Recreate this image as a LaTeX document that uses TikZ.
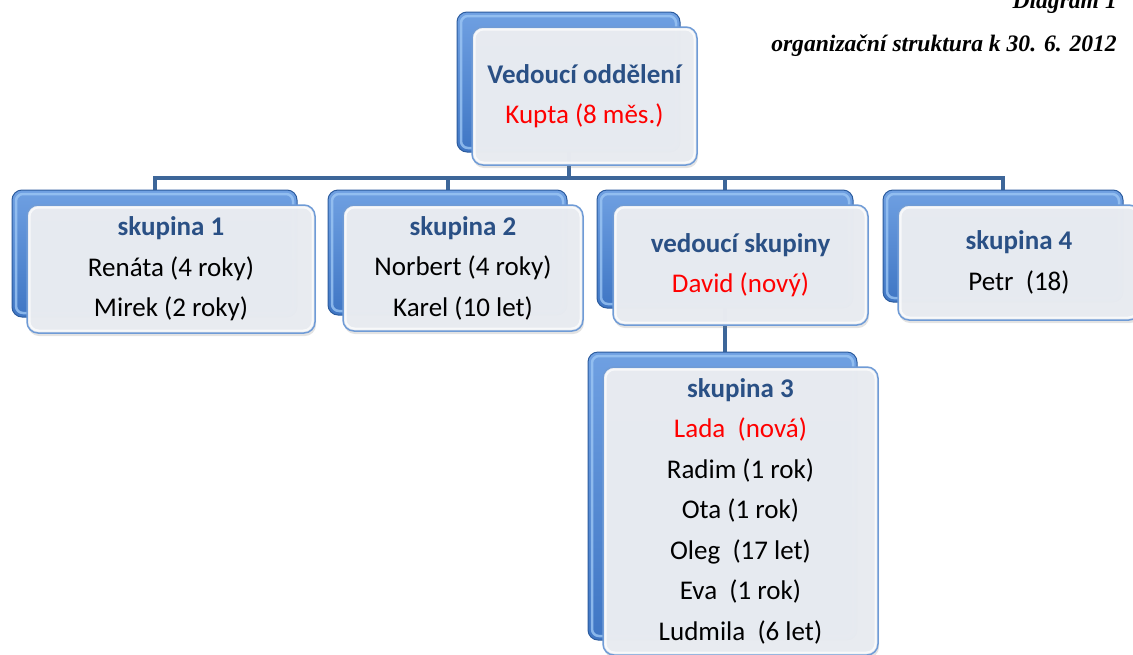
\documentclass[tikz,border=0pt]{standalone}
\usepackage{fontspec}
\setmainfont{Carlito}
\newfontfamily\tnrfont{Liberation Serif}
\usetikzlibrary{shadows}
\definecolor{ttl}{HTML}{2A5085}
\definecolor{connc}{HTML}{3D6699}
\definecolor{bkA}{HTML}{6FA0E2}
\definecolor{bkC}{HTML}{3F76C4}
\definecolor{bkD}{HTML}{2C5C9E}
\definecolor{bkL}{HTML}{9CC6F4}
\definecolor{frF}{HTML}{E9ECF1}
\definecolor{frD}{HTML}{6F9BD6}
\pgfdeclarelayer{bg}\pgfsetlayers{bg,main}
\newcommand\ttlt[1]{{\bfseries\color{ttl}#1}}
\newcommand\rdt[1]{{\color{red}#1}}
\tikzset{
 backbox/.style={rounded corners=10pt, top color=bkA, bottom color=bkC, draw=bkD, line width=1pt, inner sep=0pt,
   path picture={\draw[bkL, line width=2.5pt, rounded corners=7pt, opacity=0.8] ([shift={(4pt,-4pt)}]path picture bounding box.north west) rectangle ([shift={(-4pt,4pt)}]path picture bounding box.south east);}},
 frontbox/.style={rounded corners=11pt, fill=frF, fill opacity=0.985, text opacity=1, draw=frD, draw opacity=1, line width=1.5pt, align=center, font=\fontsize{27}{40.5}\selectfont, inner sep=0pt, drop shadow={opacity=0.22, shadow xshift=1pt, shadow yshift=-3pt},
   path picture={\draw[white, line width=2pt, rounded corners=9pt, opacity=0.7] ([shift={(2.5pt,-2.5pt)}]path picture bounding box.north west) rectangle ([shift={(-2.5pt,2.5pt)}]path picture bounding box.south east);}},
 link/.style={draw=connc, line width=4pt},
 head/.style={font=\tnrfont\bfseries\itshape\fontsize{23.6}{27}\selectfont, anchor=base east, inner sep=0pt}
}
\begin{document}
\begin{tikzpicture}[x=1pt,y=-1pt]
\useasboundingbox (0,0) rectangle (1133,654);
\clip (0,0) rectangle (1133,654);
\coordinate (bus) at (0,178);
% top
\node[backbox, minimum width=223pt, minimum height=140pt] (b0) at (568.5,82) {};
\node[frontbox, minimum width=225pt, minimum height=138pt] (f0) at (584.5,96) {\ttlt{Vedoucí oddělení}\\\rdt{Kupta (8 měs.)}};
% skupina 1
\node[backbox, minimum width=285pt, minimum height=127pt] (b1) at (154.5,253.5) {};
\node[frontbox, minimum width=288pt, minimum height=128pt] (f1) at (171,269) {\ttlt{skupina 1}\\Renáta (4 roky)\\Mirek (2 roky)};
% skupina 2
\node[backbox, minimum width=239pt, minimum height=125pt] (b2) at (447.5,252.5) {};
\node[frontbox, minimum width=240pt, minimum height=126pt] (f2) at (463,268) {\ttlt{skupina 2}\\Norbert (4 roky)\\Karel (10 let)};
% vedouci skupiny
\node[backbox, minimum width=256pt, minimum height=118pt] (b3) at (725,249) {};
\node[frontbox, minimum width=255pt, minimum height=120pt] (f3) at (740.5,265) {\ttlt{vedoucí skupiny}\\\rdt{David (nový)}};
% skupina 4
\node[backbox, minimum width=240pt, minimum height=112pt] (b4) at (1003,246) {};
\node[frontbox, minimum width=242pt, minimum height=115pt] (f4) at (1019,262.5) {\ttlt{skupina 4}\\Petr~~(18)};
% skupina 3
\node[backbox, minimum width=269pt, minimum height=288pt] (b5) at (722.5,496) {};
\node[frontbox, minimum width=275pt, minimum height=288pt] (f5) at (740.5,511) {\ttlt{skupina 3}\\\rdt{Lada~~(nová)}\\Radim (1 rok)\\Ota (1 rok)\\Oleg~~(17 let)\\Eva~~(1 rok)\\Ludmila~~(6 let)};
% connectors
\begin{pgfonlayer}{bg}
\draw[link] (b0.center) -- (b0.center |- bus);
\draw[link] (b1.center) -- (b1.center |- bus) -- (b4.center |- bus) -- (b4.center);
\draw[link] (b2.center |- bus) -- (b2.center);
\draw[link] (b3.center |- bus) -- (b3.center);
\draw[link] (b3.center) -- (b3.center |- b5.center);
\end{pgfonlayer}
% header
\node[head] (d1) at (1117,8) {Diagram 1};
\node[head] (d2) at (1117,51) {organizační struktura k 30. 6. 2012};
\end{tikzpicture}
\end{document}
